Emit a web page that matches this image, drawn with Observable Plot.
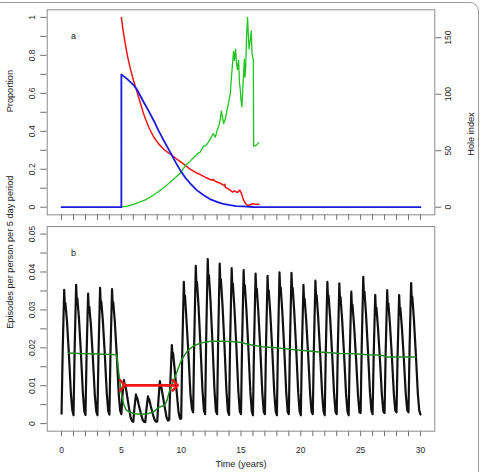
<!DOCTYPE html>
<html><head><meta charset="utf-8">
<script src="https://cdn.jsdelivr.net/npm/d3@7"></script>
<script src="https://cdn.jsdelivr.net/npm/@observablehq/plot@0.6"></script>
<style>
html,body{margin:0;padding:0;background:#fff;overflow:hidden;}
#wrap{position:relative;width:481px;height:472px;overflow:hidden;background:#fff;}
#frame{position:absolute;left:-8px;top:2px;width:487px;height:520px;border:1px solid #9a9a9a;border-radius:9px;box-sizing:border-box;}
#pa{position:absolute;left:0;top:0;}
#pb{position:absolute;left:0;top:222px;}
svg{overflow:visible;}
</style></head><body>
<div id="wrap"><div id="frame"></div><div id="pa"></div><div id="pb"></div></div>
<script>
// ---------- tick values and labels ----------
const yearTicks = [0,1,2,3,4,5,6,7,8,9,10,11,12,13,14,15,16,17,18,19,20,21,22,23,24,25,26,27,28,29,30];
const yearLabels = ["0","","","","","5","","","","","10","","","","","15","","","","","20","","","","","25","","","","","30"];
const propTicks = [0,0.1,0.2,0.3,0.4,0.5,0.6,0.7,0.8,0.9,1];
const propLabels = ["0","","0.2","","0.4","","0.6","","0.8","","1"];
const holeTicks = [0,50,100,150];
const holeLabels = ["0","50","100","150"];
const epiTicks = [0,0.005,0.01,0.015,0.02,0.025,0.03,0.035,0.04,0.045,0.05];
const epiLabels = ["0","","0.01","","0.02","","0.03","","0.04","","0.05"];
const panelLabels = ["a","b"];
const titles = ["Proportion","Hole index","Episodes per person per 5 day period","Time (years)"];

// ---------- panel a : proportion (red, blue) and hole index (green) ----------
const redT = [5,5.15,5.3,5.5,5.75,6,6.3,6.6,6.9,7.3,7.7,8.1,8.54,9.18,9.6,10.2,10.5,10.8,11.1,11.3,11.6,12,12.4,12.6,12.7,12.8,13,13.3,13.5,13.6,13.65,13.7,13.9,14.1,14.3,14.45,14.5,14.7,14.9,15.05,15.2,15.35,15.5,15.7,15.9,16.2,16.5];
const redV = [1,0.93,0.87,0.8,0.73,0.67,0.61,0.545,0.485,0.42,0.37,0.335,0.305,0.275,0.255,0.228,0.212,0.198,0.188,0.18,0.172,0.158,0.147,0.142,0.146,0.138,0.133,0.125,0.118,0.114,0.121,0.105,0.098,0.089,0.08,0.086,0.083,0.078,0.09,0.07,0.04,0.022,0.012,0.01,0.018,0.016,0.015];

const blueT = [0,5,5,5.5,6,6.3,6.87,7.3,7.7,8.1,8.54,9.18,9.55,9.93,10.35,10.77,11.3,11.88,12.4,12.99,13.5,14.1,14.6,15.2,16,17,30];
const blueV = [0,0,0.7,0.675,0.645,0.62,0.553,0.505,0.457,0.405,0.352,0.278,0.235,0.194,0.155,0.124,0.09,0.063,0.043,0.028,0.018,0.011,0.006,0.004,0.001,0,0];

const holeT = [5,5.5,6,6.5,7,7.5,8,8.5,9,9.5,10,10.35,10.77,11,11.33,11.6,11.88,12.1,12.3,12.44,12.58,12.7,12.86,13,13.15,13.27,13.35,13.45,13.55,13.69,13.83,13.95,14.1,14.2,14.3,14.38,14.45,14.55,14.62,14.7,14.8,14.87,14.94,15,15.08,15.15,15.22,15.28,15.33,15.4,15.46,15.55,15.62,15.68,15.72,15.8,15.86,15.92,15.98,16.03,16.06,16.3,16.47];
const holeV = [0,1,2.5,4.5,6.5,9.5,13,17,21.5,26,31,37,41,43.5,47,49,54,55,58,60.5,63.5,65,62,68,72,78,85,80,74,78,86,92,100,115,128,138,130,140,128,122,130,110,104,95,89,105,118,131,115,125,150,168,150,140,144,150,156,136,133,131,54,55,57];
const holeMax = 168;

// ---------- panel b : episodes ----------
const cyclePhase = [0, 0.09, 0.22, 0.27, 0.32, 0.45, 0.62, 0.78, 0.9];
const episodeCycles = [
  [0.0026,0.0185,0.0353,0.0314,0.0318,0.0272,0.0180,0.0080,0.0035],
  [0.0022,0.0190,0.0366,0.0326,0.0330,0.0280,0.0185,0.0082,0.0033],
  [0.0023,0.0178,0.0343,0.0305,0.0308,0.0262,0.0172,0.0076,0.0032],
  [0.0022,0.0186,0.0358,0.0319,0.0322,0.0273,0.0180,0.0080,0.0033],
  [0.0024,0.0185,0.0355,0.0316,0.0320,0.0270,0.0178,0.0078,0.0034],
  [0.0025,0.0075,0.0115,0.0102,0.0103,0.0080,0.0045,0.0015,0.0007],
  [0.0005,0.0040,0.0077,0.0069,0.0069,0.0050,0.0028,0.0010,0.0005],
  [0.0004,0.0036,0.0072,0.0064,0.0065,0.0047,0.0026,0.0010,0.0005],
  [0.0006,0.0058,0.0112,0.0100,0.0101,0.0076,0.0044,0.0016,0.0008],
  [0.0010,0.0105,0.0207,0.0184,0.0186,0.0145,0.0085,0.0030,0.0013],
  [0.0013,0.0190,0.0374,0.0333,0.0337,0.0270,0.0175,0.0075,0.0038],
  [0.0030,0.0215,0.0416,0.0370,0.0374,0.0310,0.0200,0.0088,0.0035],
  [0.0025,0.0225,0.0434,0.0386,0.0391,0.0325,0.0210,0.0090,0.0033],
  [0.0025,0.0220,0.0422,0.0376,0.0380,0.0315,0.0205,0.0088,0.0033],
  [0.0023,0.0212,0.0410,0.0365,0.0369,0.0305,0.0198,0.0085,0.0032],
  [0.0025,0.0210,0.0405,0.0360,0.0365,0.0302,0.0196,0.0085,0.0032],
  [0.0022,0.0205,0.0396,0.0352,0.0356,0.0295,0.0192,0.0083,0.0031],
  [0.0025,0.0202,0.0390,0.0347,0.0351,0.0290,0.0190,0.0082,0.0032],
  [0.0022,0.0206,0.0399,0.0355,0.0359,0.0297,0.0193,0.0083,0.0031],
  [0.0025,0.0206,0.0398,0.0354,0.0358,0.0296,0.0193,0.0083,0.0032],
  [0.0022,0.0190,0.0366,0.0326,0.0329,0.0273,0.0178,0.0078,0.0031],
  [0.0025,0.0196,0.0377,0.0336,0.0339,0.0281,0.0183,0.0080,0.0032],
  [0.0022,0.0194,0.0374,0.0333,0.0337,0.0279,0.0182,0.0079,0.0031],
  [0.0025,0.0193,0.0370,0.0329,0.0333,0.0276,0.0180,0.0079,0.0032],
  [0.0022,0.0181,0.0348,0.0310,0.0313,0.0260,0.0170,0.0075,0.0030],
  [0.0028,0.0202,0.0387,0.0344,0.0348,0.0289,0.0188,0.0083,0.0034],
  [0.0025,0.0178,0.0340,0.0303,0.0306,0.0254,0.0166,0.0074,0.0032],
  [0.0028,0.0185,0.0352,0.0313,0.0317,0.0263,0.0172,0.0077,0.0034],
  [0.0030,0.0180,0.0339,0.0302,0.0305,0.0254,0.0166,0.0075,0.0035],
  [0.0030,0.0196,0.0371,0.0330,0.0334,0.0277,0.0181,0.0080,0.0035]
];
const episodeEnd = 0.0024;

const meanT = [0.55,1.5,2.5,3.5,4.6,4.8,5,5.2,5.4,5.7,6.1,6.6,7.2,7.7,8,8.3,8.6,8.8,9,9.3,9.55,9.8,10,10.3,10.6,11,11.5,12,12.5,13.5,14.5,15,15.5,16,16.8,17.7,18.5,19.5,20.5,21.5,22.5,23.3,24.5,25.5,26.5,26.9,27.2,28,29,29.6];
const meanV = [0.0186,0.0185,0.0184,0.0183,0.0182,0.013,0.008,0.005,0.0036,0.003,0.0026,0.0025,0.0026,0.0031,0.004,0.0045,0.0048,0.006,0.0083,0.0108,0.0128,0.015,0.0166,0.0182,0.0194,0.0204,0.0211,0.0215,0.0217,0.0217,0.0216,0.0214,0.021,0.0207,0.0203,0.0201,0.0198,0.0195,0.0192,0.0189,0.0187,0.0185,0.0184,0.0182,0.0181,0.0179,0.0176,0.0176,0.0176,0.0176];

const arrowStart = 5.1, arrowEnd = 9.5, arrowLevel = 0.0101;

// ---------- build tables ----------
const zip = (T, V) => T.map((t, i) => ({t, v: V[i]}));
const red = zip(redT, redV);
const blue = zip(blueT, blueV);
const hole = zip(holeT, holeV);
const episodes = episodeCycles.flatMap((row, k) => row.map((v, i) => ({t: k + cyclePhase[i], v})));
episodes.push({t: 30, v: episodeEnd});
const mean = zip(meanT, meanV);

const font = "'Liberation Sans', Arial, Helvetica, sans-serif";
const style = {fontFamily: font, fontSize: "8.5px", color: "#2a2a2a", background: "transparent", overflow: "visible"};
const tickStroke = "#6f6f6f";
const lab = (ticks, labels) => d => labels[ticks.indexOf(d)];
const holeScaled = holeTicks.map(h => h / holeMax);

const pa = Plot.plot({
  width: 481, height: 222,
  marginTop: 9.3, marginBottom: 7.7, marginLeft: 46.7, marginRight: 46.7,
  x: {domain: [-1.2, 31.2]},
  y: {domain: [-0.04, 1.04]},
  style,
  marks: [
    Plot.axisX({ticks: yearTicks, tickSize: 5.5, tickFormat: () => "", stroke: tickStroke, label: null}),
    Plot.axisY({anchor: "left", ticks: propTicks, tickFormat: lab(propTicks, propLabels), tickSize: 6.5, tickRotate: -90, tickPadding: 6, stroke: tickStroke, fill: "#2a2a2a", label: null}),
    Plot.axisY({anchor: "right", ticks: holeScaled, tickFormat: lab(holeScaled, holeLabels), tickSize: 6, tickRotate: -90, tickPadding: 4, lineAnchor: "top", stroke: tickStroke, fill: "#2a2a2a", label: null}),
    Plot.frame({stroke: "#8a8a8a"}),
    Plot.line(red, {x: "t", y: "v", stroke: "#ee1515", strokeWidth: 1.5}),
    Plot.line(hole, {x: "t", y: d => d.v / holeMax, stroke: "#1fc41f", strokeWidth: 1.3}),
    Plot.line(blue, {x: "t", y: "v", stroke: "#1a1ae0", strokeWidth: 1.8}),
    Plot.text([panelLabels[0]], {x: 1, y: 0.9, text: d => d, fontSize: 9, fill: "#222"}),
    Plot.text([titles[0]], {frameAnchor: "left", dx: -37, rotate: -90, text: d => d, fontSize: 9.2, fill: "#222"}),
    Plot.text([titles[1]], {frameAnchor: "right", dx: 36, rotate: -90, text: d => d, fontSize: 9.2, fill: "#222"})
  ]
});
document.getElementById("pa").appendChild(pa);

const epiLab = lab(epiTicks, epiLabels);
const pb = Plot.plot({
  width: 481, height: 250,
  marginTop: 4, marginBottom: 41.3, marginLeft: 46.7, marginRight: 46.7,
  x: {domain: [-1.2, 31.2]},
  y: {domain: [-0.002, 0.052]},
  style,
  marks: [
    Plot.axisX({ticks: yearTicks, tickSize: 5.5, tickPadding: 10, tickFormat: lab(yearTicks, yearLabels), stroke: tickStroke, fill: "#2a2a2a", label: null}),
    Plot.axisY({anchor: "left", ticks: epiTicks, tickFormat: epiLab, tickSize: 6.5, tickRotate: -90, tickPadding: 6, stroke: tickStroke, fill: "#2a2a2a", label: null}),
    Plot.frame({stroke: "#8a8a8a"}),
    Plot.line(episodes, {x: "t", y: "v", stroke: "#111", strokeWidth: 2.2, strokeLinejoin: "round"}),
    Plot.line(mean, {x: "t", y: "v", stroke: "#228b22", strokeWidth: 1.5}),
    Plot.link([{x1: arrowStart, x2: arrowEnd, y: arrowLevel}], {x1: "x1", x2: "x2", y1: "y", y2: "y", stroke: "#ee1515", strokeWidth: 2.6, markerStart: "arrow", markerEnd: "arrow"}),
    Plot.text([panelLabels[1]], {x: 1, y: 0.045, text: d => d, fontSize: 9, fill: "#222"}),
    Plot.text([titles[2]], {frameAnchor: "left", dx: -37, rotate: -90, text: d => d, fontSize: 9.2, fill: "#222"}),
    Plot.text([titles[3]], {frameAnchor: "bottom", dy: 35.3, text: d => d, fontSize: 9.2, fill: "#222"})
  ]
});
document.getElementById("pb").appendChild(pb);
</script>
</body></html>
